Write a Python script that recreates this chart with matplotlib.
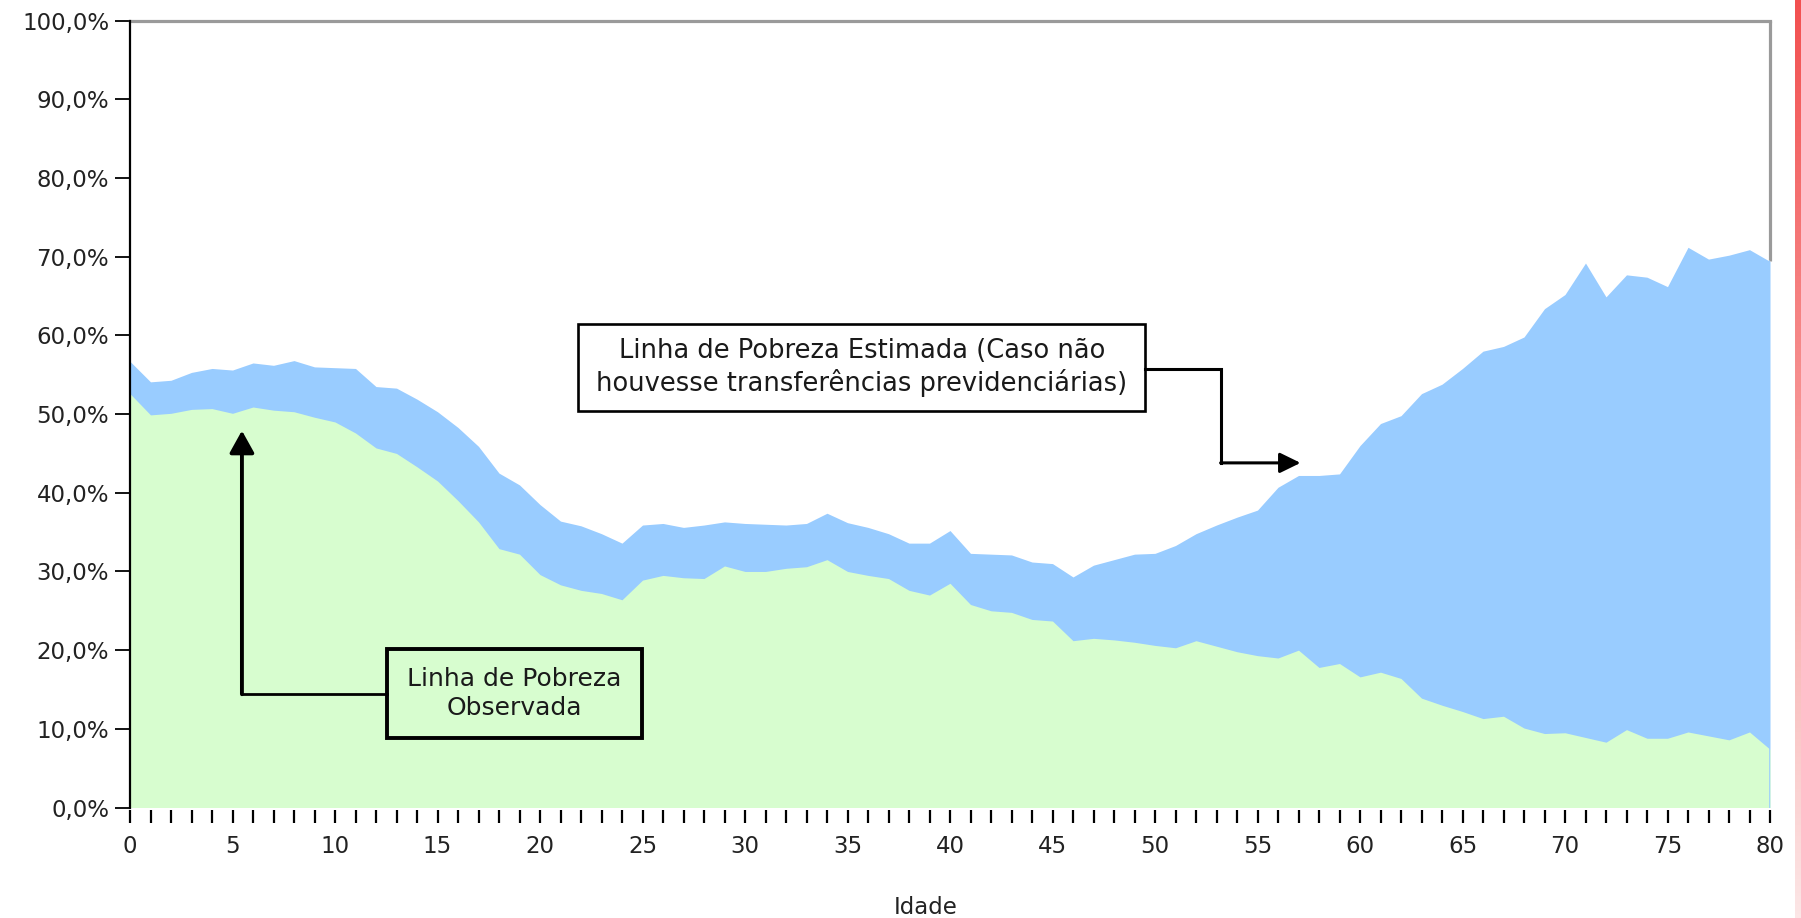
import numpy as np
import matplotlib
matplotlib.use('Agg')
import matplotlib.pyplot as plt
from matplotlib.patches import Rectangle

# ---------------- data ----------------
ages = list(range(0, 81))
estimated = [56.7, 54.1, 54.3, 55.3, 55.8, 55.6, 56.5, 56.2, 56.8, 56.0,
             55.9, 55.8, 53.5, 53.3, 51.9, 50.3, 48.3, 45.9, 42.5, 41.0,
             38.5, 36.4, 35.8, 34.8, 33.6, 35.9, 36.1, 35.6, 35.9, 36.3,
             36.1, 36.0, 35.9, 36.1, 37.4, 36.2, 35.6, 34.8, 33.6, 33.6,
             35.2, 32.3, 32.2, 32.1, 31.2, 31.0, 29.3, 30.8, 31.5, 32.2,
             32.3, 33.3, 34.8, 35.9, 36.9, 37.8, 40.7, 42.2, 42.2, 42.4,
             46.0, 48.8, 49.8, 52.6, 53.8, 55.8, 58.0, 58.6, 59.8, 63.4,
             65.2, 69.2, 64.9, 67.7, 67.4, 66.2, 71.2, 69.7, 70.2, 70.9,
             69.4]
observed = [52.6, 49.9, 50.1, 50.6, 50.7, 50.1, 50.9, 50.5, 50.3, 49.6,
            49.0, 47.6, 45.7, 45.0, 43.3, 41.5, 39.0, 36.3, 32.9, 32.2,
            29.6, 28.3, 27.6, 27.2, 26.4, 28.9, 29.5, 29.2, 29.1, 30.7,
            30.0, 30.0, 30.4, 30.6, 31.5, 30.0, 29.5, 29.1, 27.6, 27.0,
            28.5, 25.8, 25.0, 24.8, 23.9, 23.7, 21.2, 21.5, 21.3, 21.0,
            20.6, 20.3, 21.2, 20.5, 19.8, 19.3, 19.0, 20.0, 17.8, 18.3,
            16.6, 17.2, 16.4, 13.9, 13.0, 12.2, 11.3, 11.6, 10.1, 9.4,
            9.5, 8.9, 8.3, 9.9, 8.8, 8.8, 9.6, 9.1, 8.6, 9.6,
            7.4]
y_ticks = [0, 10, 20, 30, 40, 50, 60, 70, 80, 90, 100]
y_tick_labels = ['0,0%', '10,0%', '20,0%', '30,0%', '40,0%', '50,0%',
                 '60,0%', '70,0%', '80,0%', '90,0%', '100,0%']
x_major = [0, 5, 10, 15, 20, 25, 30, 35, 40, 45, 50, 55, 60, 65, 70, 75, 80]
x_label = 'Idade'
label_estimated = 'Linha de Pobreza Estimada (Caso não\nhouvesse transferências previdenciárias)'
label_observed = 'Linha de Pobreza\nObservada'

# ---------------- figure ----------------
W, H = 1801, 918
fig = plt.figure(figsize=(W / 100, H / 100), dpi=100)
fig.patch.set_facecolor('white')

ax = fig.add_axes([130 / W, 1 - 807.5 / H, 1640 / W, 786.8 / H])
ax.set_facecolor('white')

blue = '#99CCFF'
green = '#D7FDCF'
ax.fill_between(ages, 0, estimated, color=blue, lw=0, zorder=3)
ax.fill_between(ages, 0, observed, color=green, lw=0, zorder=3.1)
ax.plot([ages[-1], ages[-1]], [0, estimated[-1]], color=blue, lw=1.2, zorder=3.2)

ax.set_xlim(0, 80)
ax.set_ylim(0, 100)

# spines / frame
for s in ['right', 'bottom']:
    ax.spines[s].set_visible(False)
ax.spines['left'].set_color('black')
ax.spines['left'].set_linewidth(1.6)
ax.spines['left'].set_zorder(5)
ax.spines['top'].set_color('#9a9a9a')
ax.spines['top'].set_linewidth(2.3)
ax.plot([80, 80], [estimated[-1], 100], color='#9a9a9a', lw=2.3,
        clip_on=False, zorder=2, solid_capstyle='butt')
ax.spines['bottom'].set_position(('outward', 2))

# ticks
ax.set_yticks(y_ticks)
ax.set_yticklabels(y_tick_labels)
ax.tick_params(axis='y', direction='out', length=11, width=1.3, pad=4,
               labelsize=16.5, labelcolor='#222222', color='black')
ax.set_xticks(ages)
ax.set_xticklabels([str(a) if a in x_major else '' for a in ages])
ax.tick_params(axis='x', direction='out', length=9.5, width=1.6, pad=8,
               labelsize=16.5, labelcolor='#222222', color='black')

ax.set_xlabel(x_label, fontsize=16.5, color='#222222')
ax.xaxis.set_label_coords(0.485, -0.113)

# annotation box: estimated
ax.add_patch(Rectangle((21.85, 50.4), 27.65, 11.05, fill=False,
                       ec='black', lw=1.9, zorder=6, clip_on=False))
ax.text(35.7, 55.9, label_estimated, ha='center', va='center',
        fontsize=18.5, color='#1a1a1a', linespacing=1.25, zorder=7)
ax.plot([49.5, 53.2, 53.2], [55.7, 55.7, 43.8], color='black', lw=2.2,
        zorder=6, solid_joinstyle='miter')
ax.annotate('', xy=(57.1, 43.8), xytext=(53.2, 43.8),
            arrowprops=dict(arrowstyle='-|>,head_length=0.45,head_width=0.22',
                            mutation_scale=28, lw=2.2, color='black',
                            shrinkA=0, shrinkB=0), zorder=6)

# annotation box: observed
ax.add_patch(Rectangle((12.55, 8.8), 12.43, 11.3, fill=False,
                       ec='black', lw=2.8, zorder=6))
ax.text(18.765, 14.45, label_observed, ha='center', va='center',
        fontsize=18, color='#1a1a1a', linespacing=1.25, zorder=7)
ax.plot([12.55, 5.46], [14.4, 14.4], color='black', lw=2.0, zorder=6)
ax.annotate('', xy=(5.46, 47.9), xytext=(5.46, 14.4),
            arrowprops=dict(arrowstyle='-|>,head_length=0.45,head_width=0.25',
                            mutation_scale=30, lw=2.8, color='black',
                            shrinkA=0, shrinkB=0), zorder=6)

# decorative red gradient stripe at the right edge
sax = fig.add_axes([1795 / W, 0, 6 / W, 1])
sax.set_axis_off()
t = np.linspace(0, 1, 256)[:, None]
top = np.array([242, 80, 80]) / 255
bot = np.array([252, 230, 230]) / 255
grad = top[None, None, :] * (1 - t[:, :, None]) + bot[None, None, :] * t[:, :, None]
sax.imshow(grad, aspect='auto', extent=[0, 1, 0, 1], origin='upper')

fig.savefig('out.png', dpi=100, facecolor='white')
